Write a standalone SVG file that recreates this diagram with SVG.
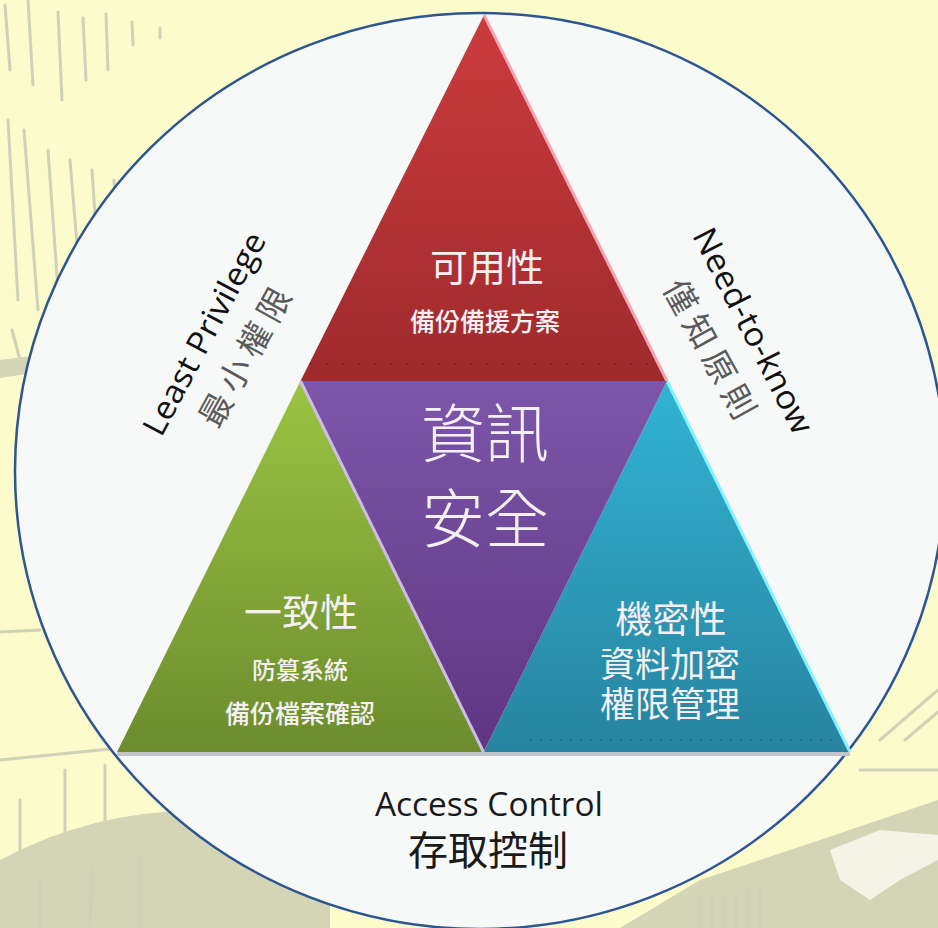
<svg xmlns="http://www.w3.org/2000/svg" width="938" height="928" viewBox="0 0 938 928">
<defs>
<style>
.sk{stroke:#cfd2b6;stroke-width:3;fill:none;stroke-linecap:round}
.skf{fill:#d3d5b6}
.cjk{font-family:"Noto Sans CJK TC","Noto Sans CJK SC",sans-serif}
.lat{font-family:"Open Sans","Noto Sans","Liberation Sans",sans-serif}
.wt{fill:#f6f0f4}
.mid{text-anchor:middle}
</style>
<linearGradient id="gRed" x1="0" y1="0" x2="0" y2="1"><stop offset="0" stop-color="#cc3b3e"/><stop offset="1" stop-color="#9e2a2c"/></linearGradient>
<linearGradient id="gPur" x1="0" y1="0" x2="0" y2="1"><stop offset="0" stop-color="#7d56aa"/><stop offset="1" stop-color="#5f3682"/></linearGradient>
<linearGradient id="gGrn" x1="0" y1="0" x2="0" y2="1"><stop offset="0" stop-color="#9ac442"/><stop offset="1" stop-color="#6c8c2e"/></linearGradient>
<linearGradient id="gBlu" x1="0" y1="0" x2="0" y2="1"><stop offset="0" stop-color="#32b3d4"/><stop offset="1" stop-color="#27849f"/></linearGradient>
</defs>

<g id="background">
<rect width="938" height="928" fill="#fcfbcb"/>
<path class="sk" d="M5 5L10 70M28 0L33 85M58 12L62 100M83 18L86 80M106 14L108 70M132 22L133 45M160 28L160 38M8 120L18 300M24 130L38 310M48 150L58 290M70 160L80 280M92 170L98 260M114 180L118 250M12 330L20 360"/>
<path class="skf" d="M0 360L40 355L40 372L0 378Z"/>
<path class="sk" d="M0 632L40 630M0 760L120 748M20 800L20 928M65 770L65 928M105 765L105 928M0 900L160 870"/>
<path class="skf" d="M0 860Q150 780 330 830L330 928L0 928Z"/>
<path class="sk" d="M40 928L40 880M90 928L92 870M140 928L140 860"/>
<path class="skf" d="M620 928L700 880L820 840L938 800L938 928Z"/>
<path fill="#f3f3e6" d="M830 850L880 830L938 835L938 860L900 880L870 900L840 880Z"/>
<path class="sk" d="M880 740L938 690M905 740L938 712M860 770L938 770"/>
<path class="sk" d="M700 900L700 928M712 898L712 928M724 896L724 928M736 894L736 928M748 892L748 928M760 890L760 928"/>
</g>

<g id="circle">
<ellipse cx="480" cy="471" rx="465" ry="458" fill="#f7f8f8" stroke="#2b5691" stroke-width="2.5"/>
</g>

<g id="connectors"></g>

<g id="base-shadow">
<line x1="117" y1="754" x2="850" y2="754" stroke="#c4c4cc" stroke-width="4"/>
</g>

<g id="node-availability">
<polygon points="484,15 300.5,381 667,381" fill="url(#gRed)"/>
<line x1="484" y1="15" x2="667" y2="381" stroke="#f3a7b4" stroke-width="3"/>
<line x1="310" y1="364" x2="655" y2="364" stroke="#7a1830" stroke-width="2" stroke-dasharray="2 14" opacity="0.6"/>
<text class="cjk wt mid" x="487" y="281" font-size="38">可用性</text>
<text class="cjk wt mid" x="485" y="331" font-size="25" font-weight="500">備份備援方案</text>
</g>

<g id="node-integrity">
<polygon points="300.5,381 117,752 483.5,752" fill="url(#gGrn)"/>
<text class="cjk wt mid" x="301" y="626" font-size="38">一致性</text>
<text class="cjk wt mid" x="300" y="679" font-size="24" font-weight="500">防篡系統</text>
<text class="cjk wt mid" x="300" y="723" font-size="25" font-weight="500">備份檔案確認</text>
</g>

<g id="node-confidentiality">
<polygon points="667,381 483.5,752 850,752" fill="url(#gBlu)"/>
<line x1="667" y1="381" x2="850" y2="752" stroke="#86f2ff" stroke-width="3"/>
<line x1="530" y1="740" x2="835" y2="740" stroke="#1a5a88" stroke-width="2" stroke-dasharray="2 8" opacity="0.5"/>
<text class="cjk wt mid" x="671" y="633" font-size="37">機密性</text>
<text class="cjk wt mid" x="670" y="677" font-size="35">資料加密</text>
<text class="cjk wt mid" x="670" y="717" font-size="35">權限管理</text>
</g>

<g id="node-security">
<polygon points="300.5,381 667,381 483.5,752" fill="url(#gPur)"/>
<line x1="300.5" y1="381" x2="483.5" y2="752" stroke="#cdbde8" stroke-width="3"/>
<text class="cjk wt mid" x="485" y="457" font-size="64" font-weight="300">資訊</text>
<text class="cjk wt mid" x="485" y="542" font-size="64" font-weight="300">安全</text>
</g>

<g id="label-least-privilege">
<text class="lat mid" transform="translate(214,339) rotate(-62)" font-size="32" fill="#111" textLength="225" lengthAdjust="spacingAndGlyphs">Least Privilege</text>
<text class="cjk mid" transform="translate(257,360) rotate(-61)" font-size="33" fill="#5a5a5a" letter-spacing="7">最小權限</text>
</g>

<g id="label-need-to-know">
<text class="lat mid" transform="translate(743,336) rotate(63)" font-size="33" fill="#111" textLength="226" lengthAdjust="spacingAndGlyphs">Need-to-know</text>
<text class="cjk mid" transform="translate(701,358) rotate(61)" font-size="33" fill="#5a5a5a" letter-spacing="7">僅知原則</text>
</g>

<g id="label-access-control">
<text class="lat mid" x="489" y="816" font-size="32" fill="#1a1a1a" textLength="228" lengthAdjust="spacingAndGlyphs">Access Control</text>
<text class="cjk mid" x="488" y="865" font-size="40" fill="#1a1a1a">存取控制</text>
</g>
</svg>
